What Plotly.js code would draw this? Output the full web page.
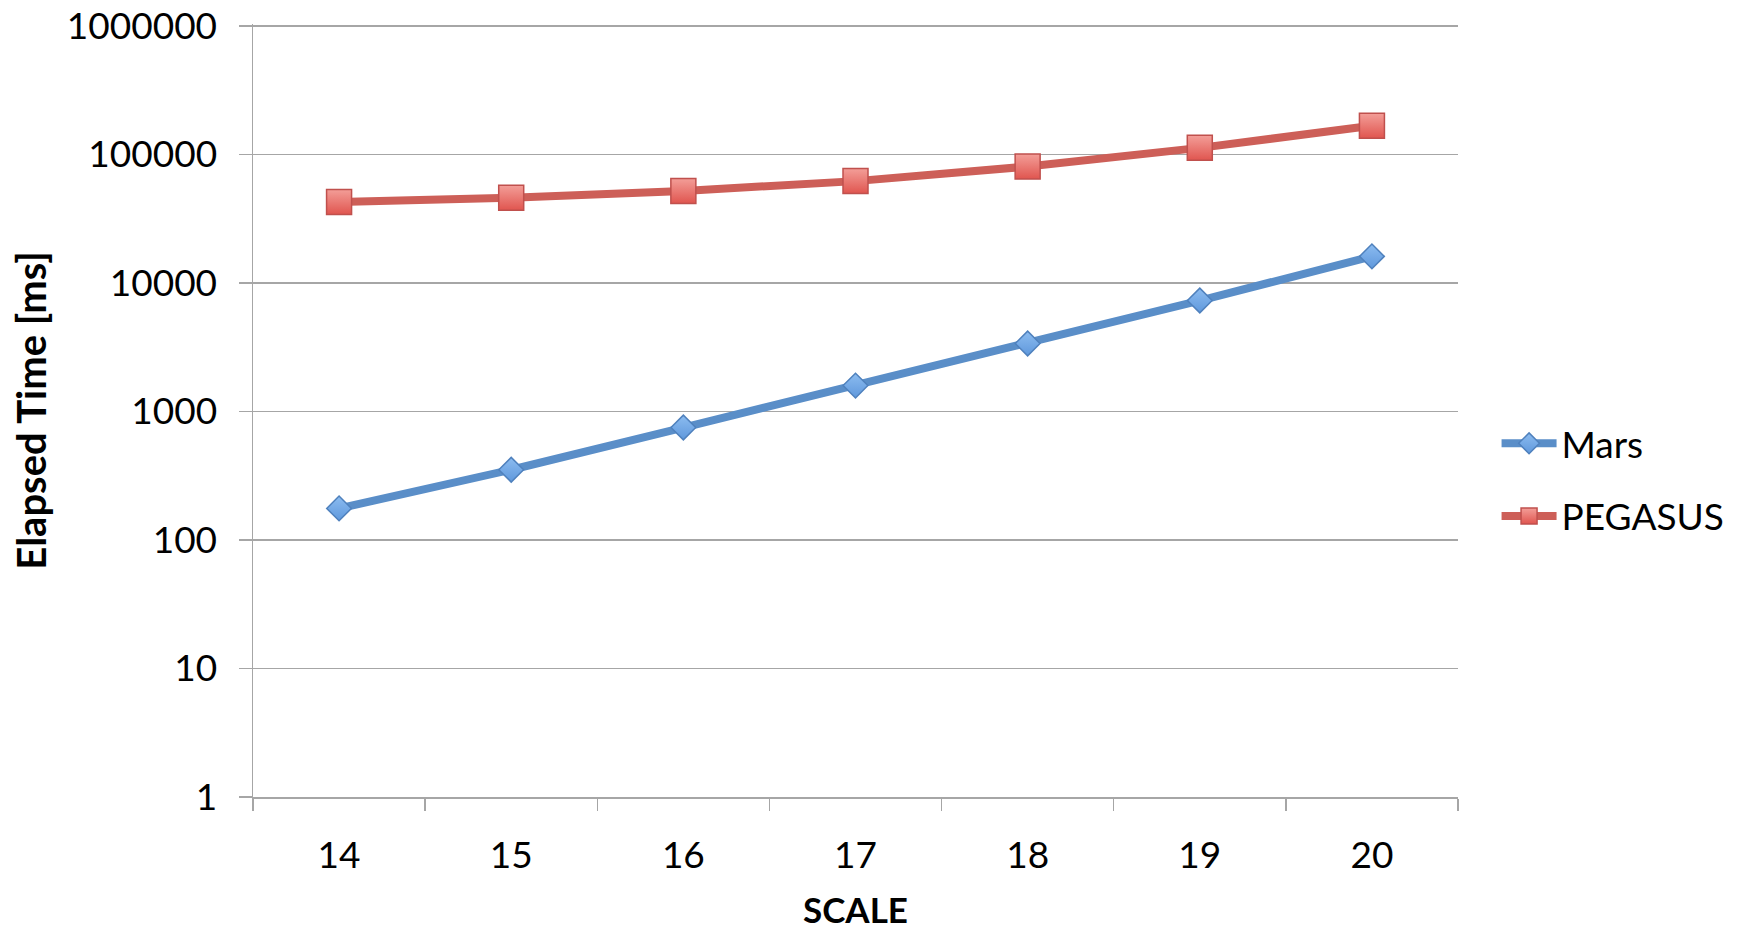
<!DOCTYPE html>
<html>
<head>
<meta charset="utf-8">
<script src="https://cdn.plot.ly/plotly-3.0.1.min.js"></script>
<style>
html,body{margin:0;padding:0;background:#fff;}
#chart{width:1742px;height:930px;}
</style>
</head>
<body>
<div id="chart"></div>
<script>
const scales = ['14', '15', '16', '17', '18', '19', '20'];
const marsValues = [176, 352, 750, 1590, 3380, 7300, 16100];
const pegasusValues = [42700, 46000, 52000, 62000, 80500, 112500, 167000];
const yTickVals = [1, 10, 100, 1000, 10000, 100000, 1000000];
const yTickText = ['1', '10', '100', '1000', '10000', '100000', '1000000'];

const FONT = 'Lato, "Open Sans", "DejaVu Sans", sans-serif';
const GRID = '#a6a6a6';

const traces = [
  {
    x: scales, y: marsValues, name: 'Mars', type: 'scatter', mode: 'lines+markers',
    line: {color: '#5a8ec8', width: 8},
    marker: {symbol: 'diamond', size: 19, color: '#8cbcf0',
             gradient: {type: 'vertical', color: '#5f98dc'},
             line: {color: '#4f81bd', width: 1.5}},
    legend: 'legend'
  },
  {
    x: scales, y: pegasusValues, name: 'PEGASUS', type: 'scatter', mode: 'lines+markers',
    line: {color: '#cd5f58', width: 8},
    marker: {symbol: 'square', size: 25, color: '#f39e98',
             gradient: {type: 'vertical', color: '#e0554f'},
             line: {color: '#c0504d', width: 1.5}},
    legend: 'legend2'
  }
];

const layout = {
  width: 1742, height: 930,
  margin: {l: 253, r: 280, t: 24, b: 133},
  paper_bgcolor: '#ffffff', plot_bgcolor: '#ffffff',
  font: {family: FONT, size: 37, color: '#000'},
  showlegend: true,
  xaxis: {
    type: 'category',
    range: [-0.5, 6.5], autorange: false,
    tickson: 'boundaries',
    ticks: 'outside', ticklen: 12, tickwidth: 1.5, tickcolor: GRID,
    ticklabelstandoff: 25,
    showline: true, linecolor: GRID, linewidth: 1.5,
    showgrid: false, zeroline: false,
    tickfont: {family: FONT, size: 37, color: '#000'},
    title: {text: 'SCALE', font: {family: FONT, size: 35, weight: 'bold', color: '#000'}, standoff: 35}
  },
  yaxis: {
    type: 'log', range: [0, 6.015], autorange: false,
    tickvals: yTickVals, ticktext: yTickText,
    ticks: 'outside', ticklen: 13, tickwidth: 1.5, tickcolor: GRID,
    ticklabelstandoff: 14, ticklabeloverflow: 'allow',
    showline: true, linecolor: GRID, linewidth: 1.5,
    showgrid: true, gridcolor: GRID, gridwidth: 1.5,
    zeroline: false,
    tickfont: {family: FONT, size: 37, color: '#000'},
    title: {text: 'Elapsed Time [ms]', font: {family: FONT, size: 40, weight: 'bold', color: '#000'}, standoff: 8}
  },
  legend: {
    x: 1.032, y: 0.457, xanchor: 'left', yanchor: 'middle',
    bgcolor: 'rgba(0,0,0,0)', borderwidth: 0,
    font: {family: FONT, size: 37, color: '#000'},
    itemsizing: 'trace', itemwidth: 55
  },
  legend2: {
    x: 1.032, y: 0.363, xanchor: 'left', yanchor: 'middle',
    bgcolor: 'rgba(0,0,0,0)', borderwidth: 0,
    font: {family: FONT, size: 37, color: '#000'},
    itemsizing: 'trace', itemwidth: 55
  }
};

Plotly.newPlot('chart', traces, layout, {displayModeBar: false, staticPlot: true});
</script>
</body>
</html>
